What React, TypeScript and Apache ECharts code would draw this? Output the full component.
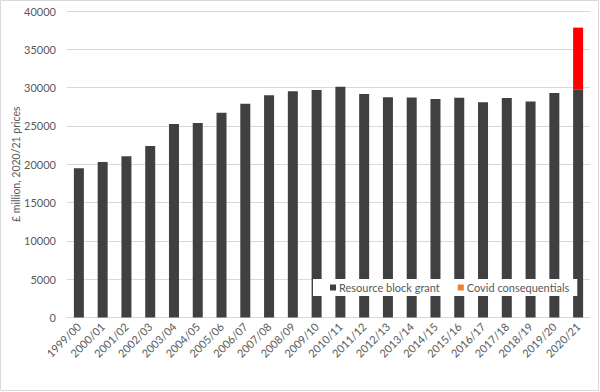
import React, { useEffect, useRef } from "react";
import * as echarts from "echarts";

const categories = [
  "1999/00", "2000/01", "2001/02", "2002/03", "2003/04", "2004/05", "2005/06",
  "2006/07", "2007/08", "2008/09", "2009/10", "2010/11", "2011/12", "2012/13",
  "2013/14", "2014/15", "2015/16", "2016/17", "2017/18", "2018/19", "2019/20", "2020/21",
];
const resourceBlockGrant = [
  19480, 20300, 21040, 22380, 25250, 25380, 26720,
  27910, 29000, 29520, 29690, 30120, 29170, 28740,
  28720, 28500, 28680, 28100, 28640, 28200, 29300, 29740,
];
const covidConsequentials = [
  0, 0, 0, 0, 0, 0, 0, 0, 0, 0, 0, 0, 0, 0, 0, 0, 0, 0, 0, 0, 0, 8090,
];
const yTicks = { min: 0, max: 40000, interval: 5000 };

export default function App() {
  const ref = useRef<HTMLDivElement>(null);
  useEffect(() => {
    if (!ref.current) return;
    const chart = echarts.init(ref.current, undefined, { renderer: "svg" });
    const font = "Lato, 'Open Sans', sans-serif";
    chart.setOption({
      animation: false,
      backgroundColor: "#ffffff",
      textStyle: { fontFamily: font },
      grid: { left: 67, right: 10, top: 11, bottom: 74.5 },
      graphic: [
        {
          type: "rect",
          shape: { x: 0.5, y: 0.5, width: 598, height: 390 },
          style: { fill: "none", stroke: "#d9d9d9", lineWidth: 1 },
          silent: true,
        },
      ],
      legend: {
        left: 313,
        top: 279,
        width: 265,
        backgroundColor: "#ffffff",
        padding: [3, 8, 3, 17],
        itemGap: 18,
        itemWidth: 6,
        itemHeight: 6,
        icon: "rect",
        textStyle: { color: "#595959", fontSize: 11, fontFamily: font, padding: [0, 0, 0, -2] },
        data: [
          { name: "Resource block grant", itemStyle: { color: "#404040" } },
          { name: "Covid consequentials", itemStyle: { color: "#ED7D31" } },
        ],
      },
      xAxis: {
        type: "category",
        data: categories,
        axisLine: { lineStyle: { color: "#d9d9d9" } },
        axisTick: { show: false },
        axisLabel: {
          rotate: 45,
          color: "#595959",
          fontSize: 11,
          fontFamily: font,
          interval: 0,
          margin: 7,
        },
      },
      yAxis: {
        type: "value",
        min: yTicks.min,
        max: yTicks.max,
        interval: yTicks.interval,
        name: "£ million, 2020/21 prices",
        nameLocation: "middle",
        nameGap: 46,
        nameMoveOverlap: false,
        nameTextStyle: { color: "#595959", fontSize: 10.5, fontFamily: font },
        axisLine: { show: false },
        axisTick: { show: false },
        axisLabel: {
          color: "#595959",
          fontSize: 11,
          fontFamily: font,
          margin: 11,
          formatter: (v: number) => String(v),
        },
        splitLine: { lineStyle: { color: "#d9d9d9" } },
      },
      series: [
        {
          name: "Resource block grant",
          type: "bar",
          stack: "total",
          barWidth: 10,
          data: resourceBlockGrant,
          itemStyle: { color: "#404040" },
        },
        {
          name: "Covid consequentials",
          type: "bar",
          stack: "total",
          barWidth: 10,
          data: covidConsequentials.map((v) => (v === 0 ? "-" : v)),
          itemStyle: { color: "#ff0000" },
        },
      ],
    });
    return () => chart.dispose();
  }, []);
  return (
    <div
      ref={ref}
      style={{ position: "fixed", left: 0, top: 0, width: 600, height: 392 }}
    />
  );
}
